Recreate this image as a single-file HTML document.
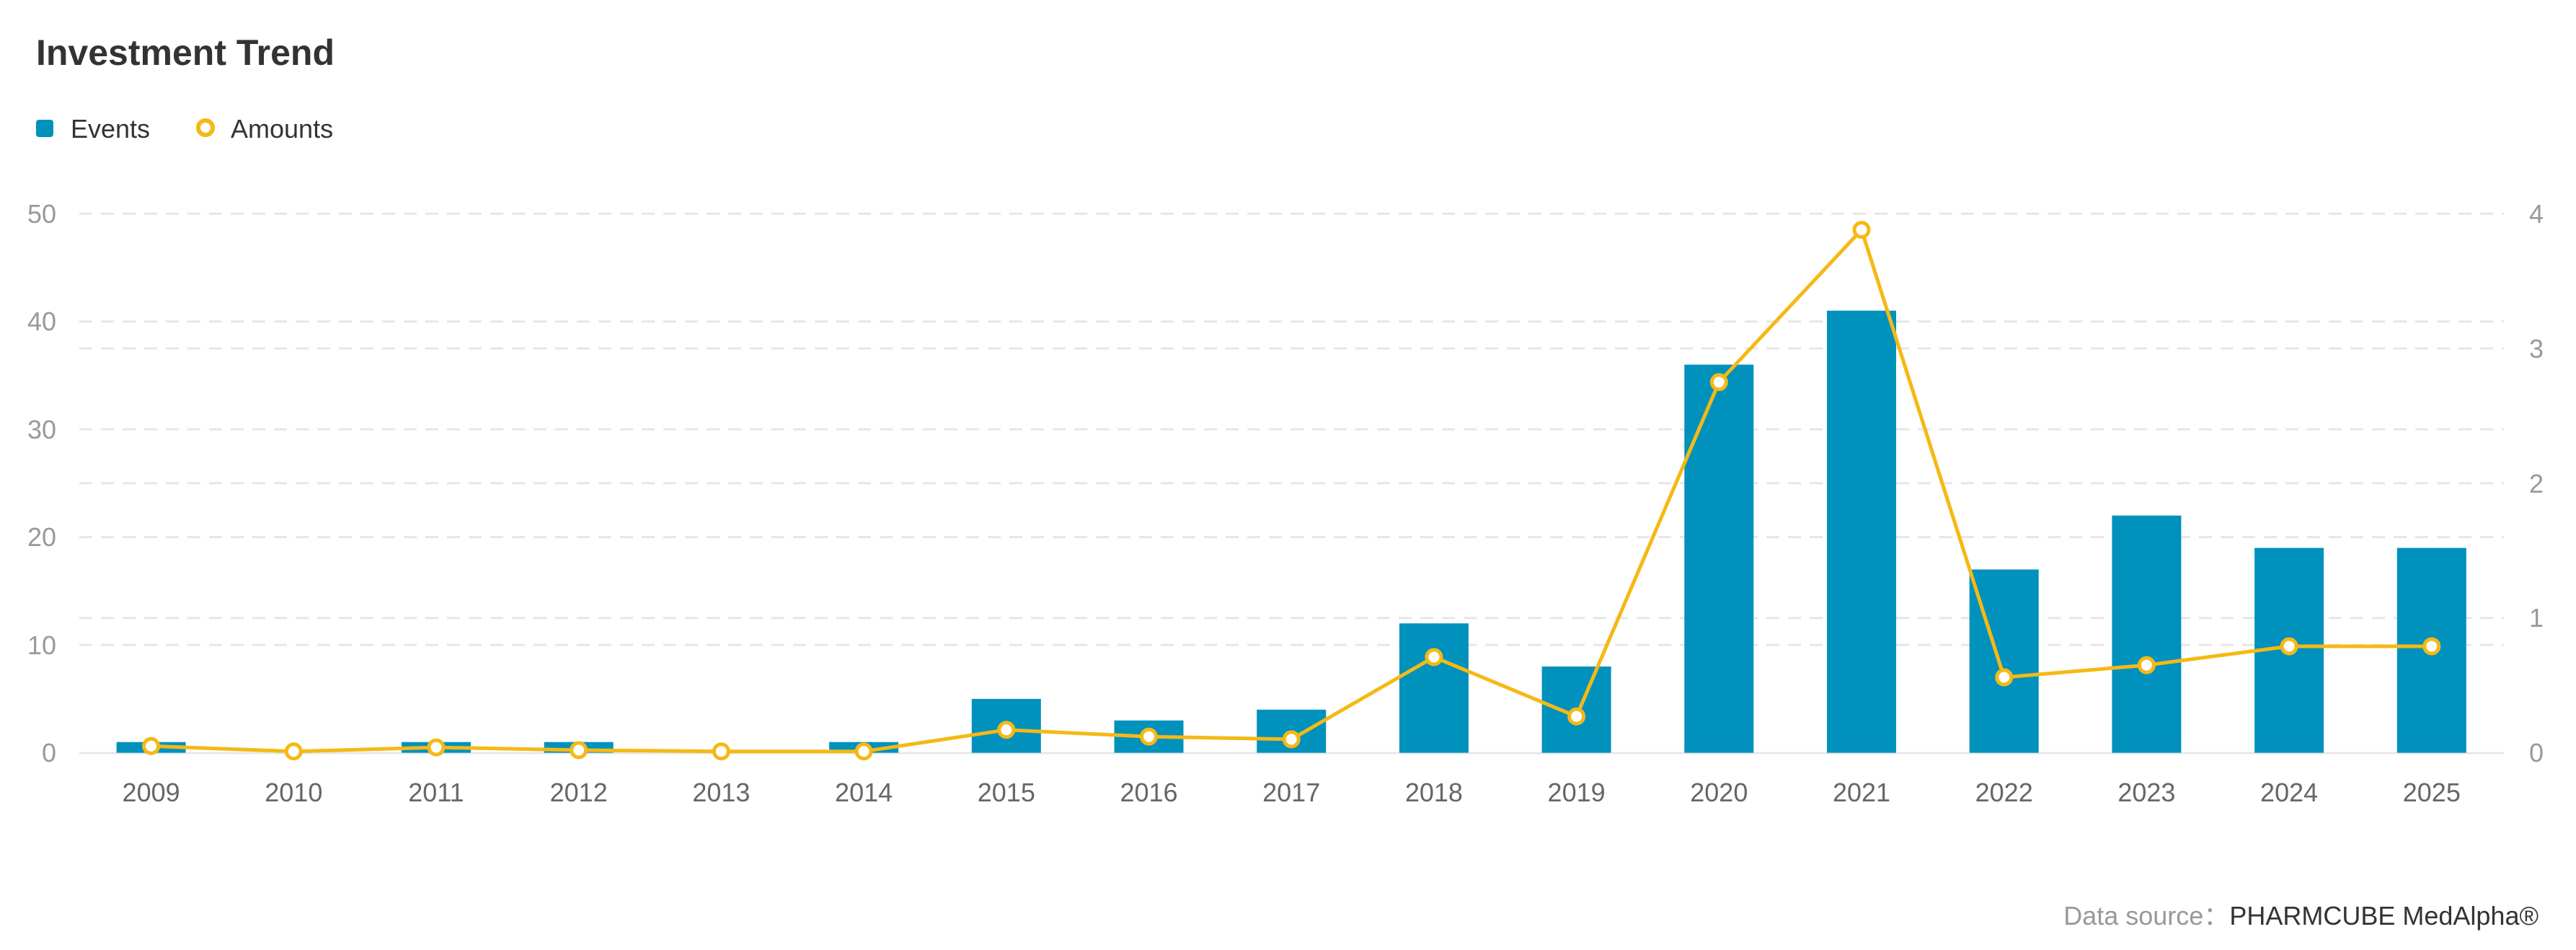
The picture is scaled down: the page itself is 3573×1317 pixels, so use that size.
<!DOCTYPE html>
<html><head><meta charset="utf-8"><style>
html,body{margin:0;padding:0;background:#fff;}
svg{display:block;font-family:"Liberation Sans","DejaVu Sans",sans-serif;}
</style></head><body>
<svg width="3573" height="1317" viewBox="0 0 3573 1317" xmlns="http://www.w3.org/2000/svg">
<text x="50" y="90" font-size="50" font-weight="bold" fill="#333">Investment Trend</text>
<rect x="50" y="166" width="24" height="24" rx="4" fill="#0091bd"/>
<text x="98" y="191" font-size="36" fill="#333">Events</text>
<circle cx="285" cy="177" r="10" fill="#fff" stroke="#f5b915" stroke-width="6"/>
<text x="320" y="191" font-size="36" fill="#333">Amounts</text>
<g stroke="#e6e6e6" stroke-width="3" stroke-dasharray="18,12">
<line x1="110" y1="296.2" x2="3473" y2="296.2"/>
<line x1="110" y1="445.7" x2="3473" y2="445.7"/>
<line x1="110" y1="595.1" x2="3473" y2="595.1"/>
<line x1="110" y1="744.6" x2="3473" y2="744.6"/>
<line x1="110" y1="894.1" x2="3473" y2="894.1"/>
<line x1="110" y1="483" x2="3473" y2="483"/>
<line x1="110" y1="669.9" x2="3473" y2="669.9"/>
<line x1="110" y1="856.7" x2="3473" y2="856.7"/>
</g>
<line x1="110" y1="1044" x2="3473" y2="1044" stroke="#e8e8e8" stroke-width="3"/>
<g font-size="36" fill="#999" text-anchor="end">
<text x="78" y="309">50</text><text x="78" y="458">40</text><text x="78" y="608">30</text>
<text x="78" y="757">20</text><text x="78" y="907">10</text><text x="78" y="1056">0</text>
</g>
<g font-size="36" fill="#999" text-anchor="start">
<text x="3508" y="309">4</text><text x="3508" y="496">3</text><text x="3508" y="683">2</text>
<text x="3508" y="869">1</text><text x="3508" y="1056">0</text>
</g>
<g fill="#0091bd">
<rect x="161.6" y="1028.7" width="96" height="14.9"/>
<rect x="557" y="1028.7" width="96" height="14.9"/>
<rect x="754.7" y="1028.7" width="96" height="14.9"/>
<rect x="1150.1" y="1028.7" width="96" height="14.9"/>
<rect x="1347.8" y="968.9" width="96" height="74.7"/>
<rect x="1545.5" y="998.8" width="96" height="44.8"/>
<rect x="1743.2" y="983.8" width="96" height="59.8"/>
<rect x="1940.9" y="864.2" width="96" height="179.4"/>
<rect x="2138.6" y="924" width="96" height="119.6"/>
<rect x="2336.3" y="505.5" width="96" height="538.1"/>
<rect x="2534" y="430.7" width="96" height="612.9"/>
<rect x="2731.7" y="789.5" width="96" height="254.1"/>
<rect x="2929.4" y="714.7" width="96" height="328.9"/>
<rect x="3127.1" y="759.6" width="96" height="284"/>
<rect x="3324.8" y="759.6" width="96" height="284"/>
</g>
<polyline fill="none" stroke="#f5b915" stroke-width="5" stroke-linejoin="round" points="209.6,1034.3 407.3,1041.7 605,1036.1 802.7,1039.9 1000.4,1041.7 1198.1,1041.7 1395.8,1011.8 1593.5,1021.2 1791.2,1024.9 1988.9,910.9 2186.6,993.2 2384.3,529.8 2582,318.6 2779.7,939 2977.4,922.1 3175.1,896 3372.8,896"/>
<g fill="#fff" stroke="#f5b915" stroke-width="5">
<circle cx="209.6" cy="1034.3" r="10"/><circle cx="407.3" cy="1041.7" r="10"/><circle cx="605" cy="1036.1" r="10"/>
<circle cx="802.7" cy="1039.9" r="10"/><circle cx="1000.4" cy="1041.7" r="10"/><circle cx="1198.1" cy="1041.7" r="10"/>
<circle cx="1395.8" cy="1011.8" r="10"/><circle cx="1593.5" cy="1021.2" r="10"/><circle cx="1791.2" cy="1024.9" r="10"/>
<circle cx="1988.9" cy="910.9" r="10"/><circle cx="2186.6" cy="993.2" r="10"/><circle cx="2384.3" cy="529.8" r="10"/>
<circle cx="2582" cy="318.6" r="10"/><circle cx="2779.7" cy="939" r="10"/><circle cx="2977.4" cy="922.1" r="10"/>
<circle cx="3175.1" cy="896" r="10"/><circle cx="3372.8" cy="896" r="10"/>
</g>
<g font-size="36" fill="#666" text-anchor="middle">
<text x="209.6" y="1111">2009</text><text x="407.3" y="1111">2010</text><text x="605" y="1111">2011</text>
<text x="802.7" y="1111">2012</text><text x="1000.4" y="1111">2013</text><text x="1198.1" y="1111">2014</text>
<text x="1395.8" y="1111">2015</text><text x="1593.5" y="1111">2016</text><text x="1791.2" y="1111">2017</text>
<text x="1988.9" y="1111">2018</text><text x="2186.6" y="1111">2019</text><text x="2384.3" y="1111">2020</text>
<text x="2582" y="1111">2021</text><text x="2779.7" y="1111">2022</text><text x="2977.4" y="1111">2023</text>
<text x="3175.1" y="1111">2024</text><text x="3372.8" y="1111">2025</text>
</g>
<text x="3521" y="1282" font-size="36" text-anchor="end" font-family="'Liberation Sans','Noto Sans CJK SC',sans-serif"><tspan fill="#999">Data source：</tspan><tspan fill="#333">PHARMCUBE MedAlpha®</tspan></text>
</svg>
</body></html>
